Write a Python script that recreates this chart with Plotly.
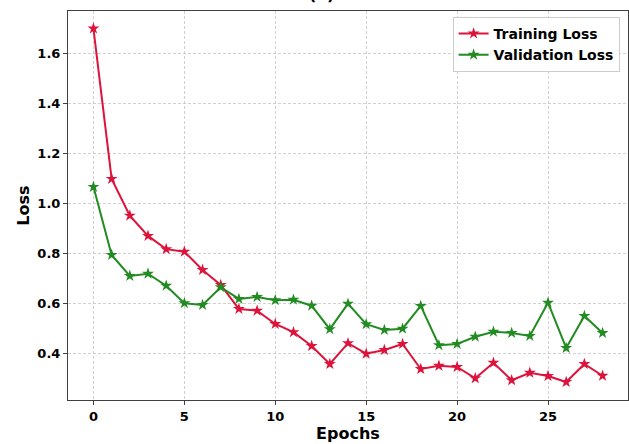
import plotly.graph_objects as go

# Loss per epoch
epochs = list(range(29))
train_loss = [1.700, 1.099, 0.952, 0.871, 0.818, 0.808, 0.735, 0.675, 0.579, 0.572,
              0.519, 0.486, 0.431, 0.359, 0.442, 0.400, 0.415, 0.439, 0.339, 0.352,
              0.347, 0.302, 0.364, 0.294, 0.324, 0.311, 0.287, 0.359, 0.312]
val_loss = [1.067, 0.795, 0.711, 0.720, 0.672, 0.602, 0.595, 0.666, 0.619, 0.627,
            0.614, 0.616, 0.592, 0.498, 0.600, 0.518, 0.495, 0.500, 0.591, 0.434,
            0.439, 0.468, 0.488, 0.483, 0.471, 0.604, 0.423, 0.551, 0.483]
x_ticks = [0, 5, 10, 15, 20, 25]
y_ticks = [0.4, 0.6, 0.8, 1.0, 1.2, 1.4, 1.6]

FONT = "DejaVu Sans"

fig = go.Figure()
fig.add_trace(go.Scatter(
    x=epochs, y=train_loss, mode="lines+markers", name="Training Loss",
    line=dict(color="#DC143C", width=2),
    marker=dict(symbol="star", size=9, color="#DC143C"),
))
fig.add_trace(go.Scatter(
    x=epochs, y=val_loss, mode="lines+markers", name="Validation Loss",
    line=dict(color="#228B22", width=2),
    marker=dict(symbol="star", size=9, color="#228B22"),
))

axis_common = dict(
    showline=True, linecolor="#404040", linewidth=1, mirror=True,
    ticks="outside", ticklen=4, tickcolor="#404040",
    showgrid=True, gridcolor="rgba(190,190,190,0.7)", griddash="3px,2px", gridwidth=0.8,
    zeroline=False,
    tickfont=dict(family=FONT, size=13, color="black", weight="bold"),
)

fig.update_layout(
    width=629, height=444,
    margin=dict(l=68, r=1, t=11, b=44),
    paper_bgcolor="white", plot_bgcolor="white",
    font=dict(family=FONT, color="black"),
    xaxis=dict(
        range=[-1.4, 29.4], tickvals=x_ticks,
        title=dict(text="<b>Epochs</b>", font=dict(family=FONT, size=16), standoff=4),
        **axis_common,
    ),
    yaxis=dict(
        range=[0.215, 1.77], tickvals=y_ticks, tickformat=".1f",
        title=dict(text="<b>Loss</b>", font=dict(family=FONT, size=16), standoff=3),
        **axis_common,
    ),
    legend=dict(
        x=0.985, y=0.985, xanchor="right", yanchor="top",
        bgcolor="rgba(255,255,255,0.85)", bordercolor="#cccccc", borderwidth=1,
        font=dict(family=FONT, size=14, color="black", weight="bold"),
        itemwidth=30, tracegroupgap=2,
    ),
    showlegend=True,
    annotations=[dict(
        text="<b>(a)</b>", xref="paper", yref="paper", x=0.453, y=1.014,
        xanchor="center", yanchor="bottom", showarrow=False,
        font=dict(family=FONT, size=16, color="black"),
    )],
)

fig.write_html("out.html")
